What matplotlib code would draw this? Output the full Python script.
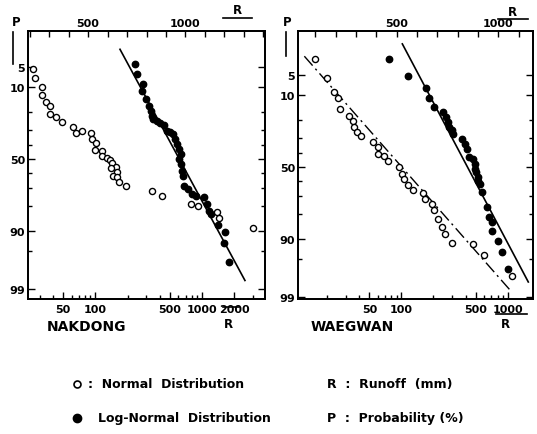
import math
import numpy as np
import matplotlib
matplotlib.use("Agg")
import matplotlib.pyplot as plt
from matplotlib.lines import Line2D
from matplotlib.ticker import FixedLocator, NullFormatter, LogLocator

plt.rcParams['font.family'] = 'DejaVu Sans'
plt.rcParams['font.weight'] = 'bold'

# ---- data (R in mm, P in %) ----
nak_norm_r = [220, 227, 264, 266, 285, 304, 307, 334, 367, 425, 438, 469, 514, 519,
              543, 534, 570, 573, 599, 611, 623, 644, 616, 647, 630, 647, 659, 695,
              828, 881, 1028, 1062, 1160, 1173, 1346]
nak_norm_p = [5.4, 7.5, 9.8, 12.7, 15.4, 17.3, 21.1, 22.8, 25.4, 28.2, 32.3, 30.9, 32.1, 36.0,
              38.6, 43.6, 44.5, 47.9, 49.5, 50.9, 53.1, 55.5, 56.4, 59.2, 61.7, 62.8, 65.7, 68.3,
              71.4, 74.6, 78.9, 80.1, 82.6, 85.5, 89.2]
nak_logn_r = [235, 244, 277, 275, 298, 320, 330, 337, 344, 375, 402, 439, 465, 499,
              536, 556, 577, 610, 633, 610, 629, 651, 665, 676, 741, 797, 875, 1039,
              1116, 1165, 1201, 1396, 1646, 1610, 1793]
nak_logn_p = [4.5, 6.5, 9.0, 11.1, 14.2, 17.1, 19.4, 22.0, 23.8, 25.0, 26.2, 27.0, 30.7, 31.7,
              32.8, 36.0, 39.4, 42.9, 46.4, 50.0, 53.6, 58.3, 61.7, 68.3, 70.4, 73.4, 74.4, 75.3,
              78.9, 82.2, 83.7, 88.1, 90.5, 93.4, 96.7]
nak_fit_r = [170, 2515]
nak_fit_p = [2.5, 98.5]

wae_norm_r = [98, 156, 192, 210, 221, 267, 284, 292, 303, 325, 385, 407, 410, 439, 456, 513,
              525, 538, 554, 582, 631, 639, 672, 685, 702, 721, 738, 774, 877, 930, 1066]
wae_norm_p = [2.7, 5.6, 8.9, 11.0, 15.0, 18.0, 20.4, 23.9, 26.4, 29.2, 33.0, 36.2, 40.8, 42.0,
              45.7, 50.2, 55.0, 58.5, 62.6, 65.7, 68.1, 71.6, 74.6, 77.9, 82.4, 85.7, 88.4,
              91.4, 91.5, 94.3, 97.4]
wae_logn_r = [76, 116, 170, 181, 203, 247, 262, 272, 281, 296, 307, 368, 395, 410, 431, 473,
              490, 490, 501, 520, 526, 546, 567, 631, 663, 703, 703, 811, 885, 994]
wae_logn_p = [2.7, 5.3, 8.0, 10.9, 14.1, 16.4, 18.7, 21.2, 23.6, 25.4, 27.8, 30.9, 34.1, 37.4,
              43.1, 44.3, 47.9, 51.4, 53.8, 57.3, 59.7, 61.9, 67.4, 76.4, 81.5, 83.8, 87.5,
              90.6, 93.6, 96.6]
wae_norm_fit_r = [46, 1057]
wae_norm_fit_p = [2.4, 98.6]
wae_logn_fit_r = [102, 1552]
wae_logn_fit_p = [1.4, 98.0]

p_major = [5, 10, 50, 90, 99]
p_minor = [20, 30, 40, 60, 70, 80, 95]
log_ticks = [50, 100, 500, 1000, 2000]
lin_labels = [500, 1000]

_erf = np.vectorize(math.erf)


def p_to_z(p):
    # normal probability scale: percent -> standard normal quantile (bisection)
    q = np.clip(np.asarray(p, dtype=float) / 100.0, 1e-9, 1 - 1e-9)
    lo = np.full(q.shape, -8.0)
    hi = np.full(q.shape, 8.0)
    for _ in range(60):
        mid = 0.5 * (lo + hi)
        c = 0.5 * (1 + _erf(mid / math.sqrt(2)))
        lo = np.where(c < q, mid, lo)
        hi = np.where(c < q, hi, mid)
    return 0.5 * (lo + hi)


def z_to_p(z):
    return 50.0 * (1 + _erf(np.asarray(z, dtype=float) / math.sqrt(2)))


def setup(ax, ylim, log_lim, lin_lim, lin_ticks):
    ax.set_yscale('function', functions=(p_to_z, z_to_p))
    ax.set_xscale('log')
    ax.set_ylim(*ylim)
    ax.set_xlim(*log_lim)
    ax.yaxis.set_major_locator(FixedLocator(p_major))
    ax.yaxis.set_minor_locator(FixedLocator(p_minor))
    ax.yaxis.set_minor_formatter(NullFormatter())
    ax.set_yticklabels([str(v) for v in p_major])
    ax.xaxis.set_major_locator(FixedLocator(log_ticks))
    ax.set_xticklabels([str(v) for v in log_ticks])
    ax.xaxis.set_minor_locator(LogLocator(base=10, subs=np.arange(2, 10)))
    ax.xaxis.set_minor_formatter(NullFormatter())
    ax.tick_params(axis='both', which='both', direction='in', labelsize=8, width=1)
    ax.tick_params(axis='y', which='both', left=True, right=True)
    ax.tick_params(which='major', length=5)
    ax.tick_params(which='minor', length=3)
    ax.tick_params(axis='y', pad=2)
    for s in ax.spines.values():
        s.set_linewidth(1.3)

    top = ax.twiny()
    top.set_xlim(*lin_lim)
    top.set_xticks(lin_ticks)
    top.set_xticklabels([str(t) if t in lin_labels else '' for t in lin_ticks])
    top.tick_params(axis='x', direction='in', length=4, width=1, labelsize=8, pad=2)
    for s in top.spines.values():
        s.set_linewidth(1.3)
    return top


W, H = 537, 435
fig = plt.figure(figsize=(W / 100, H / 100), dpi=100)

ax1 = fig.add_axes([28 / W, 1 - 300 / H, 237 / W, 268 / H])
top1 = setup(ax1, (99.38, 1.11), (23.4, 3873), (192, 1408), list(range(200, 1401, 100)))
ax1.plot(nak_fit_r, nak_fit_p, color='black', lw=1.2)
ax1.plot(nak_logn_r, nak_logn_p, 'o', color='black', ms=4.6, ls='none')
top1.plot(nak_norm_r, nak_norm_p, 'o', mfc='white', mec='black', mew=1.0, ms=4.4, ls='none')

ax2 = fig.add_axes([298 / W, 1 - 300 / H, 235 / W, 268 / H])
top2 = setup(ax2, (99.08, 0.76), (10.7, 1718), (14.8, 1170), list(range(100, 1101, 100)))
ax2.plot(wae_logn_fit_r, wae_logn_fit_p, color='black', lw=1.2)
top2.plot(wae_norm_fit_r, wae_norm_fit_p, color='black', lw=1.0, dashes=(9, 3, 1.5, 3))
ax2.plot(wae_logn_r, wae_logn_p, 'o', color='black', ms=4.6, ls='none')
top2.plot(wae_norm_r, wae_norm_p, 'o', mfc='white', mec='black', mew=1.0, ms=4.4, ls='none')


def fx(px):
    return px / W


def fy(py):
    return 1 - py / H


def bar(x0, y0, x1, y1, lw=1.2):
    fig.add_artist(Line2D([fx(x0), fx(x1)], [fy(y0), fy(y1)], color='black', lw=lw,
                          transform=fig.transFigure))


# axis symbols P (probability) and R (runoff)
for px, bx, by in [(16, 13, 65), (287, 286, 57)]:
    fig.text(fx(px), fy(22), 'P', ha='center', va='center', fontsize=8.5)
    bar(bx, 33, bx, by)
fig.text(fx(237), fy(10), 'R', ha='center', va='center', fontsize=8.5)
bar(223, 19, 252, 19)
fig.text(fx(512), fy(12), 'R', ha='center', va='center', fontsize=8.5)
bar(498, 20, 528, 20)
fig.text(fx(228), fy(325), 'R', ha='center', va='center', fontsize=8.5)
bar(223, 308, 239, 308)
fig.text(fx(505), fy(325), 'R', ha='center', va='center', fontsize=8.5)
bar(496, 315, 527, 315)

fig.text(fx(86), fy(327), 'NAKDONG', ha='center', va='center', fontsize=10)
fig.text(fx(352), fy(327), 'WAEGWAN', ha='center', va='center', fontsize=10)

# legend block
fig.add_artist(Line2D([fx(77)], [fy(385)], marker='o', mfc='white', mec='black', mew=1.2,
                      ms=5, ls='none', transform=fig.transFigure))
fig.add_artist(Line2D([fx(77)], [fy(419)], marker='o', color='black', ms=6, ls='none',
                      transform=fig.transFigure))
fig.text(fx(88), fy(385), ':  Normal  Distribution', va='center', fontsize=9)
fig.text(fx(98), fy(419), 'Log-Normal  Distribution', va='center', fontsize=9)
fig.text(fx(327), fy(385), 'R  :  Runoff  (mm)', va='center', fontsize=9)
fig.text(fx(327), fy(419), 'P  :  Probability (%)', va='center', fontsize=9)

fig.savefig('out.png', dpi=100)
